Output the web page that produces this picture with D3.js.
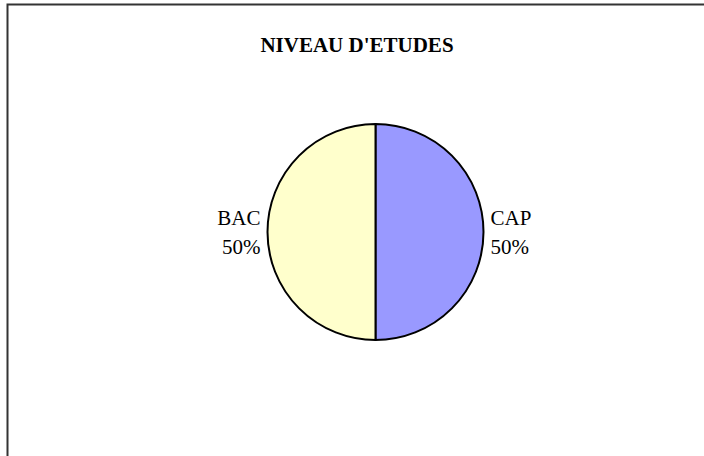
<!DOCTYPE html>
<html>
<head>
<meta charset="utf-8">
<script src="https://cdn.jsdelivr.net/npm/d3@7"></script>
<style>
  html, body { margin: 0; padding: 0; background: #fff; }
</style>
</head>
<body>
<div id="chart"></div>
<script>
const categories = ["CAP", "BAC"]
const values = [50, 50]
const colors = ["#9999FF", "#FFFFCC"]
const title = "NIVEAU D'ETUDES"

const width = 704, height = 456
const cx = 375.5, cy = 232, radius = 108

let svg = d3.select("#chart").append("svg")
  .attr("width", width)
  .attr("height", height)

// chart area frame (only top and left edges visible)
svg.append("path")
  .attr("d", `M7.5,${height} L7.5,4.5 L${width},4.5`)
  .attr("fill", "none")
  .attr("stroke", "#333")
  .attr("stroke-width", 2)

svg.append("text")
  .text(title)
  .attr("x", 357).attr("y", 51.5)
  .attr("text-anchor", "middle")
  .style("font-family", "'Liberation Serif', 'Times New Roman', serif")
  .style("font-weight", "bold")
  .style("font-size", "21px")

let data = categories.map((c, i) => ({name: c, value: values[i], color: colors[i]}))
let total = d3.sum(values)

let pie = d3.pie().sort(null).value(d => d.value)
let arc = d3.arc().innerRadius(0).outerRadius(radius)
let arcs = pie(data)

let g = svg.append("g").attr("transform", `translate(${cx},${cy})`)

g.selectAll("path")
  .data(arcs)
  .join("path")
  .attr("d", arc)
  .attr("fill", d => d.data.color)
  .attr("stroke", "#000")
  .attr("stroke-width", 2)
  .attr("stroke-linejoin", "round")

// labels sit just outside the pie, beside the middle of each slice
let labelGap = 7
g.selectAll("text.label")
  .data(arcs)
  .join("text")
  .attr("class", "label")
  .attr("text-anchor", d => (d.startAngle + d.endAngle) / 2 < Math.PI ? "start" : "end")
  .attr("transform", d => {
    let a = (d.startAngle + d.endAngle) / 2
    let x = Math.sin(a) * (radius + labelGap)
    let y = -Math.cos(a) * (radius + labelGap)
    return `translate(${x},${y})`
  })
  .style("font-family", "'Liberation Serif', 'Times New Roman', serif")
  .style("font-size", "21px")
  .each(function(d) {
    let t = d3.select(this)
    t.append("tspan").attr("x", 0).attr("y", -7).text(d.data.name)
    t.append("tspan").attr("x", 0).attr("y", 22)
      .text(d3.format(".0%")(d.data.value / total))
  })
</script>
</body>
</html>
